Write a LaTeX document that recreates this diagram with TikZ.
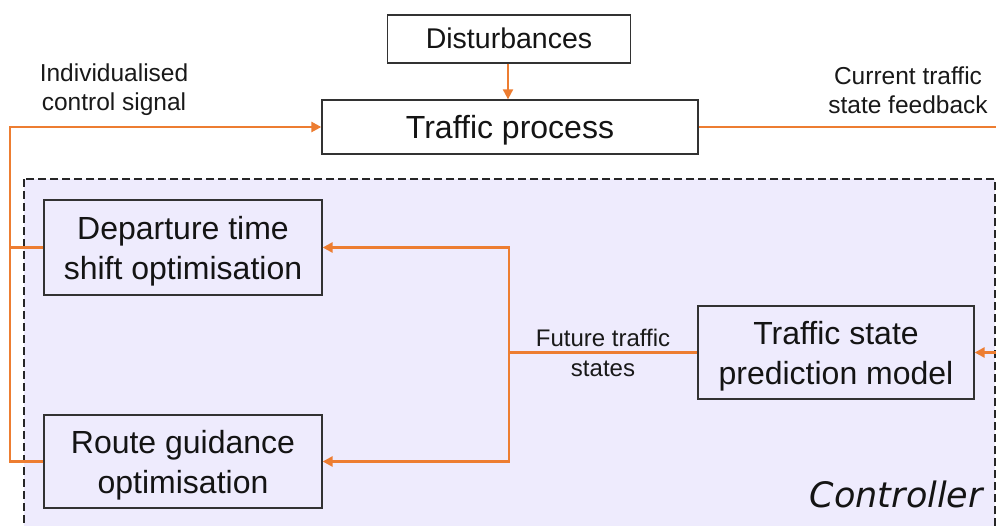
\documentclass[tikz,border=0pt]{standalone}
\usepackage{fontspec}
\setmainfont{Liberation Sans}
\newfontfamily\ctrlfont{DejaVu Sans}
\usetikzlibrary{arrows.meta}
\definecolor{flow}{RGB}{237,125,49}
\definecolor{ctrlfill}{RGB}{238,235,253}
\definecolor{edge}{RGB}{50,50,50}
% block text, set a little below the geometric centre of its box
\newcommand\blocktext[1]{\raisebox{-3.5pt}[\height][\depth]{\begin{tabular}{@{}c@{}}#1\end{tabular}}}
\tikzset{
  block/.style={draw=edge, line width=1.3pt, fill=white, inner sep=0pt,
    font=\fontsize{32}{40}\selectfont, text=black!92},
  ctrlblock/.style={block, fill=none},
  flowline/.style={draw=flow, line width=2.5pt},
  flowarrow/.style={flowline, -{Triangle[length=10pt,width=10pt]}},
  tag/.style={align=center, inner sep=0pt, font=\fontsize{24.5}{29}\selectfont, text=black!90},
}
\begin{document}
\begin{tikzpicture}[x=1pt,y=-1pt]
\useasboundingbox (0,0) rectangle (996,525);

% controller region
\draw[fill=ctrlfill, draw=black!85, line width=1.2pt, dash pattern=on 8pt off 4pt]
  (24,179) rectangle (995,545);
\node[anchor=east, inner sep=0pt, font=\ctrlfont\itshape\fontsize{35}{40}\selectfont, text=black!92]
  (ctrl) at (983,494) {Controller};

% blocks
\node[block, font=\fontsize{28.5}{32}\selectfont, minimum width=243pt, minimum height=48pt]
  (dist) at (509,39) {\blocktext{Disturbances}};
\node[block, minimum width=376pt, minimum height=54pt] (proc) at (510,127)
  {\blocktext{Traffic process}};
\node[ctrlblock, minimum width=278pt, minimum height=95pt] (dep) at (183,247.5)
  {\blocktext{Departure time\\shift optimisation}};
\node[ctrlblock, minimum width=278pt, minimum height=93pt] (route) at (183,461.5)
  {\blocktext{Route guidance\\optimisation}};
\node[ctrlblock, minimum width=276pt, minimum height=93pt] (pred) at (836,352.5)
  {\blocktext{Traffic state\\prediction model}};

% connector corners and free ends
\coordinate (cl) at (10,127);
\coordinate (fb) at (996,127);
\coordinate (fin) at (996,352.5);
\coordinate (sp) at (509,352.5);

% disturbances into the process
\draw[flowarrow, line width=2pt] (dist.south -| 508,0) -- (proc.north -| 508,0);

% control signal back to the process
\draw[flowarrow] (route.west) -| (cl) -- (proc.west);
\draw[flowline] (dep.west) -- (dep.west -| cl);

% state feedback
\draw[flowline] (proc.east) -- (fb);
\draw[flowarrow] (fin) -- (pred.east);

% predicted states to the optimisers
\draw[flowline, line width=3.2pt] (pred.west) -- (sp);
\draw[flowarrow] (sp) |- (dep.east);
\draw[flowarrow] (sp) |- (route.east);

% labels
\node[tag] (lctl) at (114,90) {Individualised\\control signal};
\node[tag] (lfb) at (908,90) {Current traffic\\state feedback};
\node[tag, font=\fontsize{24}{30}\selectfont] (lfut) at (603,353) {Future traffic\\states};
\end{tikzpicture}
\end{document}
